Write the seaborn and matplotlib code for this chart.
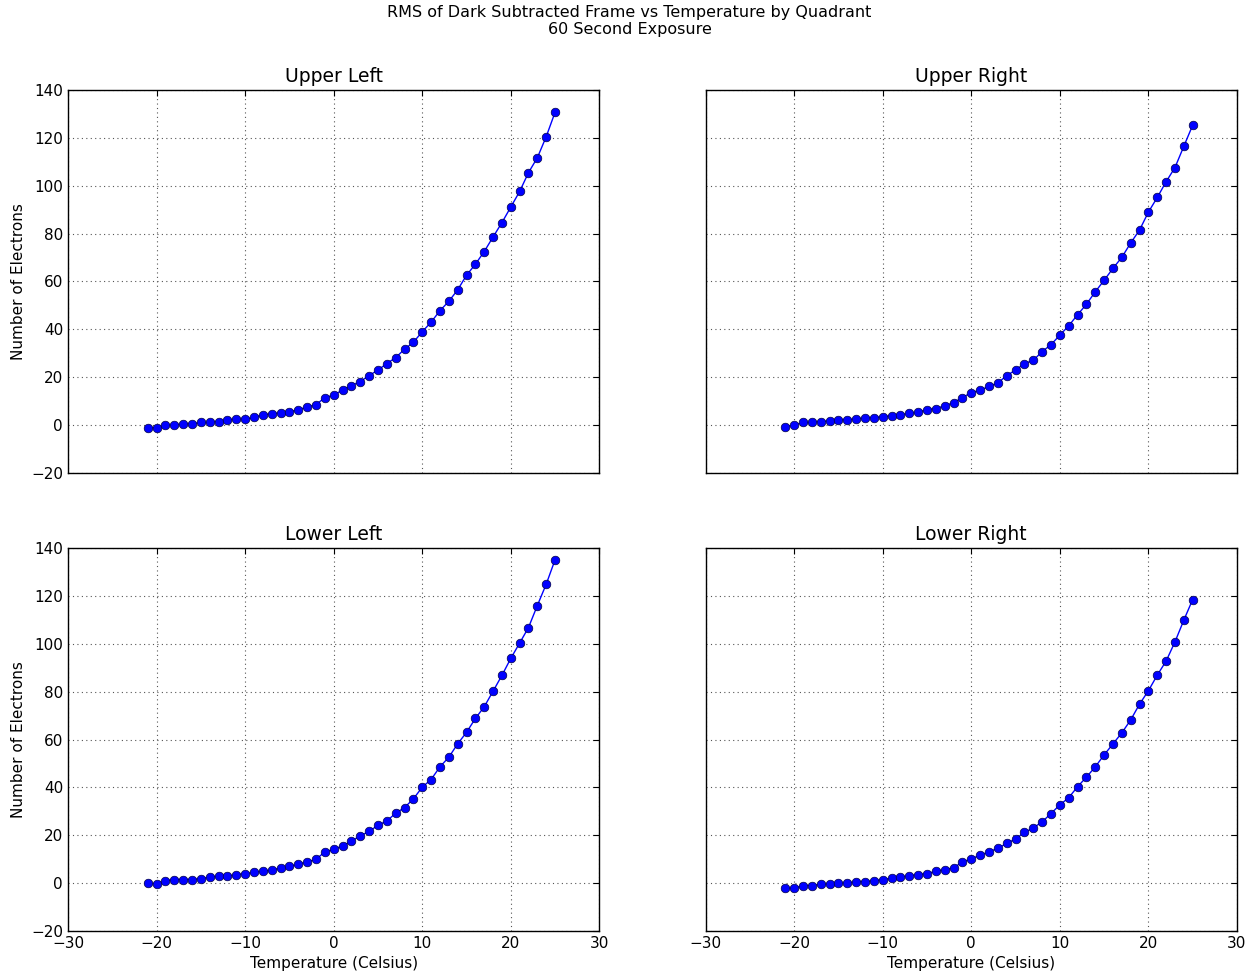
import matplotlib
matplotlib.use("Agg")
import matplotlib.pyplot as plt
import seaborn as sns
import numpy as np
import pandas as pd

temperature = list(range(-21, 26))

upper_left = [-1.4, -1.0, 0.0, 0.0, 0.5, 0.5, 1.1, 1.1, 1.5, 2.2, 2.5, 2.5, 3.2, 4.3, 4.7, 5.1,
              5.5, 6.5, 7.5, 8.6, 11.4, 12.6, 14.6, 16.5, 18.2, 20.7, 23.0, 25.7, 28.2, 31.7,
              34.6, 39.0, 43.0, 47.8, 51.7, 56.5, 62.6, 67.2, 72.5, 78.6, 84.6, 91.1, 97.6,
              105.5, 111.7, 120.5, 130.7]
upper_right = [-0.6, 0.0, 1.1, 1.1, 1.5, 1.7, 2.1, 2.2, 2.6, 2.9, 3.1, 3.5, 3.9, 4.4, 4.9, 5.3,
               6.5, 6.9, 8.1, 9.4, 11.5, 13.6, 14.6, 16.2, 17.6, 20.7, 23.0, 25.7, 27.1, 30.7,
               33.6, 37.6, 41.5, 46.1, 50.5, 55.7, 60.5, 65.5, 70.1, 76.1, 81.5, 89.0, 95.1,
               101.7, 107.6, 116.5, 125.3]
lower_left = [0.0, -0.3, 1.0, 1.5, 1.5, 1.5, 1.9, 2.5, 2.9, 2.9, 3.5, 4.0, 4.5, 5.0, 5.4, 6.4,
              7.0, 7.9, 8.9, 9.9, 13.1, 14.1, 15.6, 17.5, 19.8, 21.6, 24.2, 26.0, 29.2, 31.6,
              35.2, 40.1, 43.3, 48.6, 52.6, 58.2, 63.0, 68.8, 73.7, 80.2, 86.8, 93.9, 100.3,
              106.8, 116.0, 124.9, 135.1]
lower_right = [-2.1, -2.1, -1.0, -1.0, -0.4, -0.4, 0.0, 0.0, 0.6, 0.6, 1.0, 1.5, 2.1, 2.5, 3.1,
               3.6, 4.0, 5.0, 5.6, 6.5, 8.8, 10.2, 11.7, 13.1, 14.6, 16.6, 18.5, 21.2, 23.1, 25.6,
               29.1, 32.7, 35.7, 40.3, 44.3, 48.6, 53.6, 58.2, 62.8, 68.2, 74.8, 80.4, 86.9,
               92.8, 100.8, 109.9, 118.5]

quadrant_titles = ["Upper Left", "Upper Right", "Lower Left", "Lower Right"]
series = [upper_left, upper_right, lower_left, lower_right]

sns.set_style("white")
plt.rcParams['font.family'] = ['DejaVu Sans']
plt.rcParams['text.color'] = 'black'
plt.rcParams['axes.labelcolor'] = 'black'
plt.rcParams['xtick.color'] = 'black'
plt.rcParams['ytick.color'] = 'black'

fig, axes = plt.subplots(2, 2, figsize=(12.59, 9.74), dpi=100, sharex=True, sharey=True)
fig.subplots_adjust(left=0.054, right=0.9825, top=0.9076, bottom=0.0441, wspace=0.2, hspace=0.196)

for ax, title, vals in zip(axes.flat, quadrant_titles, series):
    df = pd.DataFrame({"Temperature": temperature, "Electrons": vals})
    sns.lineplot(data=df, x="Temperature", y="Electrons", ax=ax, color="blue",
                 marker="o", markersize=6.2, markeredgecolor="#000044", markeredgewidth=0.5,
                 linewidth=1)
    ax.set_title(title, fontsize=13.5, color="black")
    ax.set_xlim(-30, 30)
    ax.set_ylim(-20, 140)
    ax.set_xticks(np.arange(-30, 31, 10))
    ax.set_yticks(np.arange(-20, 141, 20))
    ax.grid(True, color="#555555", linestyle=(0, (1, 3)), linewidth=0.8)
    for s in ax.spines.values():
        s.set_visible(True)
        s.set_color("black")
        s.set_linewidth(1.0)
    ax.tick_params(axis="both", which="both", direction="in", length=4, width=0.8,
                   labelsize=11, top=True, right=True, colors="black")
    ax.set_xlabel("")
    ax.set_ylabel("")

for ax in axes[1, :]:
    ax.set_xlabel("Temperature (Celsius)", fontsize=11)
for ax in axes[:, 0]:
    ax.set_ylabel("Number of Electrons", fontsize=11)

fig.suptitle("RMS of Dark Subtracted Frame vs Temperature by Quadrant\n60 Second Exposure",
             fontsize=11.5, y=0.995)

fig.savefig("out.png", dpi=100, facecolor="white")
